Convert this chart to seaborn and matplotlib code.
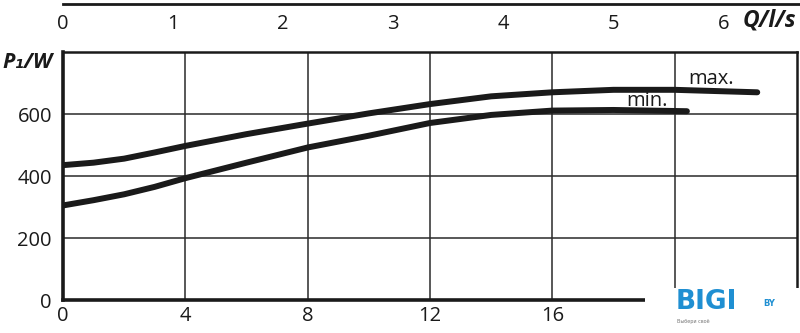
import matplotlib
matplotlib.use("Agg")
import matplotlib.pyplot as plt
from matplotlib.patches import Rectangle
import seaborn as sns
import pandas as pd

# ---- data ----
flow_max = [0, 1, 2, 3, 4, 6, 8, 10, 12, 14, 16, 18, 20, 22.7]          # m3/h
power_max = [435, 443, 456, 476, 497, 535, 569, 602, 632, 657, 670, 678, 678, 670]  # W
flow_min = [0, 1, 2, 3, 4, 6, 8, 10, 12, 14, 16, 18, 20.4]
power_min = [305, 322, 341, 365, 393, 443, 492, 530, 571, 597, 611, 613, 609]

bottom_ticks = [0, 4, 8, 12, 16, 20]
bottom_labels = ["0", "4", "8", "12", "16", ""]
y_ticks = [0, 200, 400, 600]
y_labels = ["0", "200", "400", "600"]
top_ticks = [0, 1, 2, 3, 4, 5, 6]
top_labels = ["0", "1", "2", "3", "4", "5", "6"]
curve_names = ["max.", "min."]

sns.set_style("white")
plt.rcParams["font.family"] = ["Open Sans", "DejaVu Sans"]

W, H = 800, 333
fig = plt.figure(figsize=(W / 100, H / 100), dpi=100)
ax = fig.add_axes([63 / W, 33 / H, 734 / W, 248 / H])

df_max = pd.DataFrame({"Q": flow_max, "P": power_max})
df_min = pd.DataFrame({"Q": flow_min, "P": power_min})
for d in (df_max, df_min):
    sns.lineplot(data=d, x="Q", y="P", ax=ax, color="#1a1a1a", lw=4.3,
                 solid_capstyle="round", solid_joinstyle="round",
                 sort=False, estimator=None, zorder=5)

ax.set_xlim(0, 24)
ax.set_ylim(0, 800)
ax.set_xlabel("")
ax.set_ylabel("")
ax.set_xticks(bottom_ticks)
ax.set_xticklabels(bottom_labels)
ax.set_yticks(y_ticks)
ax.set_yticklabels(y_labels)
ax.tick_params(axis="both", length=0, labelsize=14.5, colors="#1a1a1a")
ax.tick_params(axis="x", pad=4)
ax.tick_params(axis="y", pad=8)
ax.grid(True, color="#2a2a2a", lw=1.1)
for s in ["left", "bottom"]:
    ax.spines[s].set_linewidth(2.6)
for s in ["top", "right"]:
    ax.spines[s].set_linewidth(1.8)
for s in ax.spines.values():
    s.set_color("#1a1a1a")
    s.set_visible(True)

ax.text(21.2, 713, curve_names[0], ha="center", va="center", fontsize=14.5, color="#1a1a1a")
ax.text(19.1, 643, curve_names[1], ha="center", va="center", fontsize=14.5, color="#1a1a1a")

# ---- top Q / l/s scale ----
axt = fig.add_axes([63 / W, 329 / H, 737 / W, 0.0001])
axt.set_xlim(0, (24 / 3.6) * (737 / 734))
axt.set_ylim(0, 1)
axt.set_xticks(top_ticks)
axt.set_xticklabels(top_labels)
axt.set_yticks([])
for s in ["left", "right", "top"]:
    axt.spines[s].set_visible(False)
axt.spines["bottom"].set_linewidth(2.0)
axt.spines["bottom"].set_color("#1a1a1a")
axt.patch.set_alpha(0)
axt.tick_params(axis="x", direction="out", length=4.5, width=1.6, pad=3,
                labelsize=14.5, colors="#1a1a1a")

fig.text(796 / W, 1 - 21 / H, "Q/l/s", ha="right", va="center", fontsize=16.5,
         fontweight="bold", style="italic", color="#1a1a1a")
fig.text(2 / W, 1 - 63 / H, "P₁/W", ha="left", va="center", fontsize=15.5,
         fontweight="bold", style="italic", color="#1a1a1a")

# ---- watermark corner ----
fig.patches.append(Rectangle((645 / W, 0), 155 / W, 45 / H, transform=fig.transFigure,
                             facecolor="white", edgecolor="none", zorder=10))
fig.text(676 / W, 1 - 302 / H, "BIGI", ha="left", va="center", fontsize=19,
         fontweight="bold", color="#1f8fd2", zorder=11, family=["DejaVu Sans"])
fig.text(763 / W, 1 - 304 / H, "BY", ha="left", va="center", fontsize=6,
         fontweight="bold", color="#1f8fd2", zorder=11, family=["DejaVu Sans"])
fig.text(677 / W, 1 - 321 / H, "Выбери своё", ha="left", va="center", fontsize=3.5,
         color="#777777", zorder=11, family=["DejaVu Sans"])

fig.savefig("out.png", dpi=100)
